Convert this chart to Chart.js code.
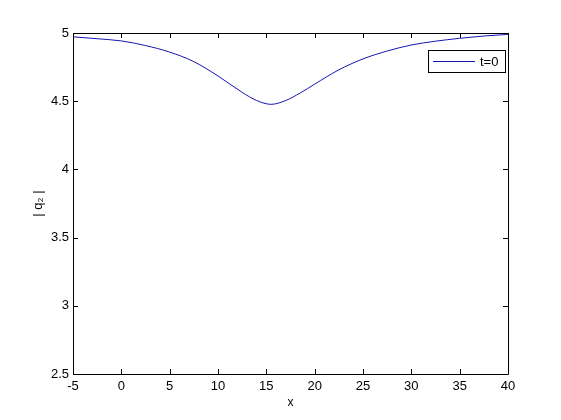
<!DOCTYPE html>
<html>
<head>
<meta charset="utf-8">
<script src="https://cdn.jsdelivr.net/npm/chart.js@4"></script>
<style>
  html, body { margin: 0; padding: 0; background: #fff; }
  #c { display: block; }
</style>
</head>
<body>
<canvas id="c" width="561" height="420"></canvas>
<script>
// ====== DATA ======
const xValues = [-5, -2.5, 0, 2.5, 5, 7.5, 10, 12.5, 14, 15.5, 17, 18.5, 20, 22.5, 25, 27.5, 30, 32.5, 35, 37.5, 40];
const q2Values = [4.972, 4.958, 4.942, 4.908, 4.860, 4.790, 4.685, 4.565, 4.505, 4.477, 4.505, 4.560, 4.625, 4.730, 4.810, 4.868, 4.912, 4.940, 4.961, 4.978, 4.990];
const seriesLabel = "t=0";
const xTicks = [-5, 0, 5, 10, 15, 20, 25, 30, 35, 40];
const yTicks = [2.5, 3, 3.5, 4, 4.5, 5];

const FONT = "'Liberation Sans', Arial, sans-serif";
const FSIZE = 13;
const lineColor = "#1414b4";

// ====== PLUGINS ======
// MATLAB style frame with inward ticks + legend box
const framePlugin = {
    id: 'frame',
    afterDatasetsDraw(chart) {
        const { ctx, chartArea: a, scales } = chart;
        ctx.save();
        ctx.strokeStyle = '#000';
        ctx.lineWidth = 1;
        ctx.beginPath();
        ctx.rect(Math.round(a.left) + 0.5, Math.round(a.top) + 0.5, Math.round(a.right - a.left), Math.round(a.bottom - a.top));
        const len = 5;
        scales.x.ticks.forEach(t => {
            const px = Math.round(scales.x.getPixelForValue(t.value)) + 0.5;
            ctx.moveTo(px, a.bottom); ctx.lineTo(px, a.bottom - len);
            ctx.moveTo(px, a.top); ctx.lineTo(px, a.top + len);
        });
        scales.y.ticks.forEach(t => {
            const py = Math.round(scales.y.getPixelForValue(t.value)) + 0.5;
            ctx.moveTo(a.left, py); ctx.lineTo(a.left + len, py);
            ctx.moveTo(a.right, py); ctx.lineTo(a.right - len, py);
        });
        ctx.stroke();

        // legend box
        const bx = 428.5, by = 50.5, bw = 77, bh = 22;
        ctx.fillStyle = '#fff';
        ctx.fillRect(bx, by, bw, bh);
        ctx.strokeRect(bx, by, bw, bh);
        ctx.beginPath();
        ctx.strokeStyle = lineColor;
        ctx.moveTo(433, 61.5); ctx.lineTo(475, 61.5);
        ctx.stroke();
        ctx.fillStyle = '#000';
        ctx.font = FSIZE + "px " + FONT;
        ctx.textBaseline = 'middle';
        ctx.fillText(chart.data.datasets[0].label, 480, 62);
        ctx.restore();
    }
};

// ====== CHART ======
new Chart(document.getElementById('c'), {
    type: 'line',
    data: {
        datasets: [{
            label: seriesLabel,
            data: xValues.map((x, i) => ({ x: x, y: q2Values[i] })),
            borderColor: lineColor,
            borderWidth: 1,
            pointRadius: 0,
            fill: false,
            cubicInterpolationMode: 'monotone'
        }]
    },
    options: {
        responsive: false,
        animation: false,
        layout: { padding: { top: 33, right: 53, left: 0, bottom: 0 } },
        plugins: { legend: { display: false }, tooltip: { enabled: false } },
        scales: {
            x: {
                type: 'linear', min: -5, max: 40,
                afterBuildTicks: s => { s.ticks = xTicks.map(v => ({ value: v })); },
                afterFit: s => { s.height = 46; },
                grid: { display: false, drawTicks: false },
                border: { display: false },
                ticks: { color: '#000', font: { family: FONT, size: FSIZE }, padding: 5, maxRotation: 0, callback: v => String(v) },
                title: { display: true, text: 'x', color: '#000', font: { family: FONT, size: FSIZE - 1 }, padding: { top: 0, bottom: 10 } }
            },
            y: {
                type: 'linear', min: 2.5, max: 5,
                afterBuildTicks: s => { s.ticks = yTicks.map(v => ({ value: v })); },
                afterFit: s => { s.width = 73; },
                grid: { display: false, drawTicks: false },
                border: { display: false },
                ticks: { color: '#000', font: { family: FONT, size: FSIZE }, padding: 4, callback: v => String(v) },
                title: { display: true, text: '| q₂ |', color: '#000', font: { family: FONT, size: FSIZE }, padding: { top: 31, bottom: 0 } }
            }
        }
    },
    plugins: [framePlugin]
});
</script>
</body>
</html>
